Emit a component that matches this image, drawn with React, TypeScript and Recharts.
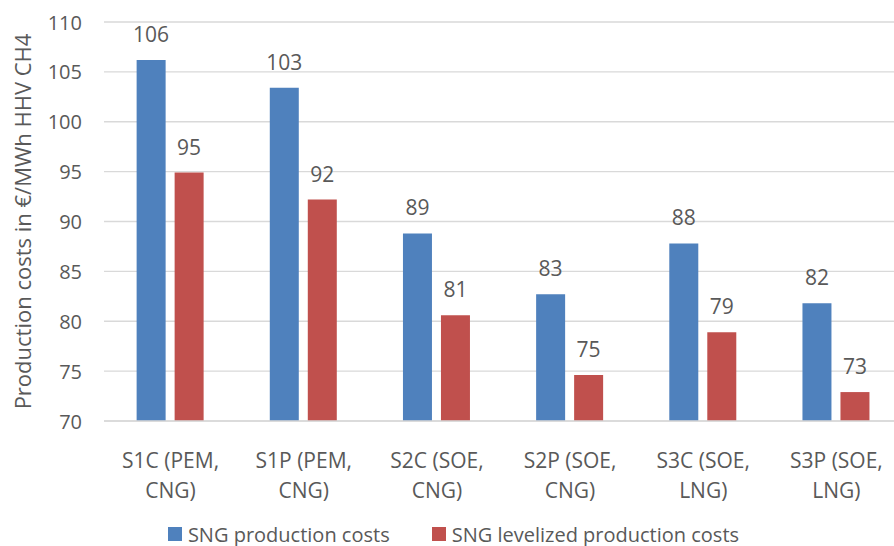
import React from 'react';
import { BarChart, Bar, XAxis, YAxis, CartesianGrid, Legend, LabelList } from 'recharts';

const categories = ['S1C (PEM, CNG)', 'S1P (PEM, CNG)', 'S2C (SOE, CNG)', 'S2P (SOE, CNG)', 'S3C (SOE, LNG)', 'S3P (SOE, LNG)'];
const productionCosts = [106.2, 103.4, 88.8, 82.7, 87.8, 81.8];
const levelizedCosts = [94.9, 92.2, 80.6, 74.6, 78.9, 72.9];
const yTicks = [70, 75, 80, 85, 90, 95, 100, 105, 110];
const seriesNames = ['SNG production costs', 'SNG levelized production costs'];
const yAxisTitle = 'Production costs in €/MWh HHV CH4';

const BLUE = '#4f81bd';
const RED = '#c0504d';
const TEXT = '#595959';
const FONT = '"Open Sans", sans-serif';

const data = categories.map((c, i) => ({
  category: c,
  production: productionCosts[i],
  levelized: levelizedCosts[i],
}));

const CategoryTick = (props: any) => {
  const { x, y, payload } = props;
  const label: string = payload.value;
  const idx = label.indexOf(', ');
  const l1 = label.slice(0, idx + 1);
  const l2 = label.slice(idx + 2);
  return (
    <g>
      <text x={x} y={y + 31} textAnchor="middle" dominantBaseline="central" fill={TEXT} fontSize={21} fontFamily={FONT}>{l1}</text>
      <text x={x} y={y + 61} textAnchor="middle" dominantBaseline="central" fill={TEXT} fontSize={21} fontFamily={FONT}>{l2}</text>
    </g>
  );
};

const ValueTick = (props: any) => {
  const { y, payload } = props;
  return (
    <text x={82} y={y} textAnchor="end" dominantBaseline="central" fill={TEXT} fontSize={20} fontFamily={FONT}>{payload.value}</text>
  );
};

const YTitle = (props: any) => {
  const vb = props.viewBox || {};
  const cy = (vb.y ?? 22) + (vb.height ?? 399) / 2;
  const cx = 22;
  return (
    <text x={cx} y={cy} transform={`rotate(-90, ${cx}, ${cy})`} textAnchor="middle" dominantBaseline="central" fill={TEXT} fontSize={22} fontFamily={FONT}>{yAxisTitle}</text>
  );
};

const LegendContent = () => (
  <div style={{ display: 'flex', justifyContent: 'center', alignItems: 'center', fontFamily: FONT, fontSize: 20, color: TEXT, height: 24, paddingLeft: 4 }}>
    {seriesNames.map((n, i) => (
      <div key={n} style={{ display: 'flex', alignItems: 'center', marginRight: i === 0 ? 42 : 0 }}>
        <span style={{ display: 'inline-block', width: 14, height: 14, background: i === 0 ? BLUE : RED, marginRight: 6 }} />
        <span>{n}</span>
      </div>
    ))}
  </div>
);

export default function App() {
  return (
    <div style={{ position: 'absolute', left: 0, top: 0, width: 894, height: 546, overflow: 'hidden', background: '#fff' }}>
      <BarChart
        width={910}
        height={546}
        data={data}
        margin={{ top: 22, right: 7, bottom: 0, left: 0 }}
        barCategoryGap="24.5%"
        barGap={9}
      >
        <CartesianGrid vertical={false} stroke="#d9d9d9" strokeWidth={1.3} />
        <XAxis
          dataKey="category"
          height={101}
          tickLine={false}
          axisLine={{ stroke: '#d9d9d9', strokeWidth: 1.3 }}
          tick={<CategoryTick />}
          interval={0}
        />
        <YAxis
          width={104}
          domain={[70, 110]}
          ticks={yTicks}
          axisLine={false}
          tickLine={false}
          tick={<ValueTick />}
          allowDataOverflow
          label={<YTitle />}
        />
        <Legend verticalAlign="bottom" height={24} content={<LegendContent />} />
        <Bar dataKey="production" name={seriesNames[0]} fill={BLUE} isAnimationActive={false}>
          <LabelList dataKey="production" position="top" offset={18} formatter={(v: any) => Math.round(v)} fill={TEXT} fontSize={21} fontFamily={FONT} />
        </Bar>
        <Bar dataKey="levelized" name={seriesNames[1]} fill={RED} isAnimationActive={false}>
          <LabelList dataKey="levelized" position="top" offset={18} formatter={(v: any) => Math.round(v)} fill={TEXT} fontSize={21} fontFamily={FONT} />
        </Bar>
      </BarChart>
    </div>
  );
}
